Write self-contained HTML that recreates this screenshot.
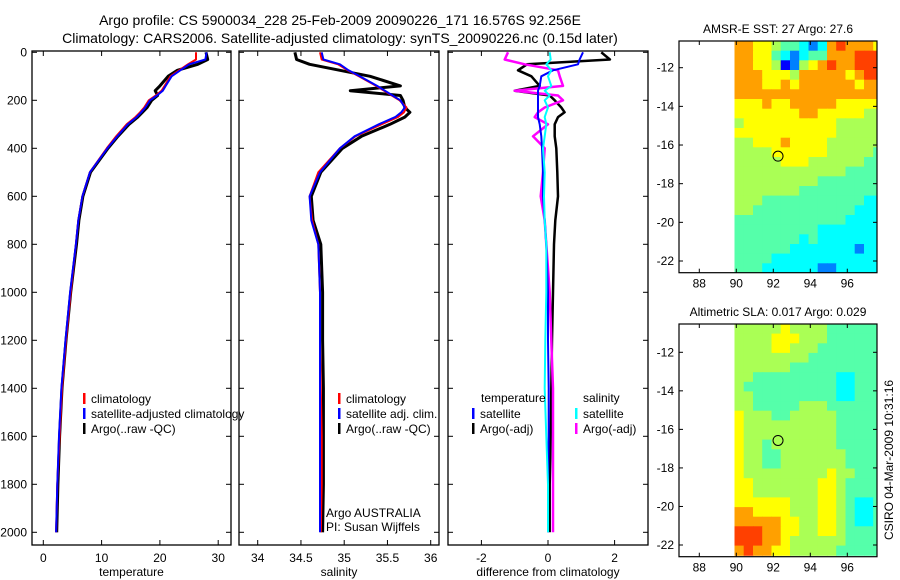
<!DOCTYPE html>
<html><head><meta charset="utf-8"><style>
body{margin:0;background:#fff;}
svg{display:block;font-family:"Liberation Sans",sans-serif;}
</style></head><body>
<svg id="c" width="900" height="580" viewBox="0 0 900 580"></svg>
<script>
// ---- profile data ----
const depths = [0,30,50,75,100,140,160,180,200,230,250,270,300,350,400,500,600,700,800,1000,1200,1400,1600,1800,2000];
const tempSat  = [28,27.8,25,23.5,22,21,20.5,19.5,18.3,17.5,16.8,16,14.5,12.7,11,8,6.7,6,5.6,4.6,3.8,3.1,2.7,2.4,2.2];
const tempClim = [26.2,26.2,24.8,23.3,21.8,20.8,20.3,19.3,18.1,17.3,16.6,15.8,14.3,12.5,10.9,8,6.7,6,5.6,4.7,3.9,3.2,2.8,2.4,2.2];
const tempArgo = [27.9,28.2,26.5,23,21.4,20,19.2,19.6,18.6,17.8,17,16.2,14.7,12.8,11.1,8.1,6.8,6.1,5.7,4.7,3.9,3.2,2.8,2.5,2.3];
const salSat  = [34.74,34.76,34.95,35.05,35.18,35.38,35.47,35.56,35.65,35.7,35.66,35.59,35.4,35.12,34.95,34.72,34.6,34.62,34.7,34.72,34.72,34.72,34.72,34.72,34.72];
const salClim = [34.72,34.74,34.93,35.04,35.17,35.37,35.46,35.55,35.64,35.72,35.69,35.62,35.43,35.13,34.95,34.7,34.6,34.63,34.7,34.72,34.72,34.73,34.74,34.74,34.73];
const salArgo = [34.43,34.45,34.6,34.95,35.3,35.65,35.07,35.65,35.68,35.7,35.76,35.7,35.53,35.2,34.98,34.73,34.62,34.64,34.73,34.75,34.75,34.76,34.76,34.76,34.75];
const dTempSat  = [1.05,0.95,0.9,0.15,-0.2,-0.25,-0.3,-0.3,-0.3,-0.3,-0.3,-0.3,-0.25,-0.2,-0.18,-0.15,-0.15,-0.1,-0.05,0,0,0.02,0.02,0,0];
const dTempArgo = [1.6,1.86,-0.63,-0.9,-0.5,-0.25,-1.0,0.05,0.2,0.4,0.5,0.3,0.2,0.2,0.25,0.28,0.3,0.22,0.18,0.15,0.12,0.1,0.08,0.05,0.05];
const dSalArgo  = [-1.2,-1.3,-0.7,0.3,0.35,0.45,-1.0,0.3,0.45,-0.1,-0.3,-0.4,0,-0.45,-0.1,-0.15,-0.22,-0.1,-0.05,0.05,0.1,0.15,0.15,0.15,0.15];
const dSalSat   = [0.05,0.08,-0.05,0.1,0.0,0.1,-0.1,0.05,-0.1,0.0,-0.05,-0.1,-0.05,-0.1,-0.15,-0.1,-0.12,-0.1,-0.05,-0.05,-0.08,-0.1,-0.05,0,0];
const depthTicks = [0,200,400,600,800,1000,1200,1400,1600,1800,2000];
const tempTicks = [0,10,20,30];
const salTicks = [34,34.5,35,35.5,36];
const diffTicks = [-2,0,2];
// ---- map data (jet index 0-9), rows top(-10.62) to bottom, 0.5 deg cells from lon 89.9 ----
const sstRows = [
"7766544323787776","7766432344777888","7766512567877888","7776665777776788",
"7776676777777677","7777777777777777","6667667777766666","6666666776666655",
"5666666666655555","6666666666655555","5566676666555555","5555666666555554",
"5555566655555544","5555555555554444","5555555554444444","5555555444444444",
"5554444444444433","5544444444444333","4444444444443333","4444444443333333",
"4444444343333333","4444443333333233","4444333333333333","4443333332233333"];
const slaRows = [
"5555565555444444","5555666555444444","5555665554444444","5555555544444444",
"5555554444444444","5544444444433444","5444444444433444","5544444444433444",
"5544444555444444","6555445555544444","6555555555544444","6555555555544444",
"6554555555544444","6554455555554444","6554455555554444","6555555555655444",
"6655555556654444","6655555556654444","6666665556654334","7766665556654334",
"7777766556654334","8887766556654444","8887765555554444","7877665555544444"];
const lonTicks = [88,90,92,94,96];
const latTicks = [-12,-14,-16,-18,-20,-22];
const argoLon = 92.256, argoLat = -16.576;

const NS="http://www.w3.org/2000/svg";
const svg=document.getElementById('c');
function el(tag,attrs,parent){const e=document.createElementNS(NS,tag);for(const k in attrs)e.setAttribute(k,attrs[k]);(parent||svg).appendChild(e);return e;}
function txt(x,y,s,anchor,size,parent){const t=el('text',{x:x,y:y,'font-size':size||12,'text-anchor':anchor||'start',fill:'#000'},parent);t.textContent=s;return t;}
const jet=['#00008f','#0000ff','#0080ff','#00ffff','#55ffaa','#aaff55','#ffff00','#ffa000','#ff4000','#b00000'];

let t=txt(340,25,'Argo profile: CS 5900034_228 25-Feb-2009 20090226_171 16.576S 92.256E','middle',14);

t=txt(340,43,'Climatology: CARS2006. Satellite-adjusted climatology: synTS_20090226.nc (0.15d later)','middle',14);


const yTop=52.3, yPx=0.24, boxTop=51, boxBot=545;
const yD=d=>yTop+d*yPx;

function panel(name,left,right,x0,xs,ticks,xlabel,showY){
  const g=el('g',{});
  
  const xf=v=>x0+v*xs;
  el('rect',{x:left,y:boxTop,width:right-left,height:boxBot-boxTop,fill:'none',stroke:'#000','stroke-width':1.3},g);
  ticks.forEach(v=>{const x=xf(v);
    el('line',{x1:x,x2:x,y1:boxTop,y2:boxTop+5,stroke:'#000'},g);
    el('line',{x1:x,x2:x,y1:boxBot,y2:boxBot-5,stroke:'#000'},g);
    const l=txt(x,562,String(v),'middle',12,g);});
  depthTicks.forEach(d=>{const y=yD(d);
    el('line',{x1:left,x2:left+5,y1:y,y2:y,stroke:'#000'},g);
    el('line',{x1:right,x2:right-5,y1:y,y2:y,stroke:'#000'},g);
    if(showY){const l=txt(27,y+4,String(d),'end',12,g);}});
  const xl=txt((left+right)/2,576,xlabel,'middle',12,g);
  return {g,xf};
}
function line(p,vals,color,w,name){
  const pts=vals.map((v,i)=>p.xf(v).toFixed(1)+','+yD(depths[i]).toFixed(1)).join(' ');
  const l=el('polyline',{points:pts,fill:'none',stroke:color,'stroke-width':w,'stroke-linejoin':'round'},p.g);
  
}
function legend(p,x,y,color,label,name){
  const r=el('rect',{x:x,y:y-9,width:2.5,height:11,fill:color},p.g);
  
  const l=txt(x+8,y+1,label,'start',12,p.g);
}

const p1=panel('temperature-panel',32,231,43.3,5.83,tempTicks,'temperature',true);
line(p1,tempArgo,'#000',3,'temp-argo-line');
line(p1,tempClim,'#f00',2,'temp-climatology-line');
line(p1,tempSat,'#00f',2,'temp-satellite-line');
legend(p1,83,402,'#f00','climatology','legend-climatology');
legend(p1,83,417,'#00f','satellite-adjusted climatology','legend-satellite');
legend(p1,83,432,'#000','Argo(..raw -QC)','legend-argo');

const p2=panel('salinity-panel',239,439,257.7-34*86.5,86.5,salTicks,'salinity',false);
line(p2,salArgo,'#000',3,'sal-argo-line');
line(p2,salClim,'#f00',2,'sal-climatology-line');
line(p2,salSat,'#00f',2,'sal-satellite-line');
legend(p2,338,402,'#f00','climatology','legend-climatology');
legend(p2,338,417,'#00f','satellite adj. clim.','legend-satellite');
legend(p2,338,432,'#000','Argo(..raw -QC)','legend-argo');
t=txt(326,517,'Argo AUSTRALIA','start',12,p2.g);
t=txt(326,531,'PI: Susan Wijffels','start',12,p2.g);

const p3=panel('difference-panel',448,648,548,33.3,diffTicks,'difference from climatology',false);
line(p3,dTempArgo,'#000',2.5,'diff-temp-argo-line');
line(p3,dSalArgo,'#f0f',2.5,'diff-sal-argo-line');
line(p3,dTempSat,'#00f',2,'diff-temp-satellite-line');
line(p3,dSalSat,'#0ff',2,'diff-sal-satellite-line');
t=txt(481,402,'temperature','start',12,p3.g);
t=txt(583,402,'salinity','start',12,p3.g);
legend(p3,472,417,'#00f','satellite','legend-temp-satellite');
legend(p3,472,432,'#000','Argo(-adj)','legend-temp-argo');
legend(p3,575,417,'#0ff','satellite','legend-sal-satellite');
legend(p3,575,432,'#f0f','Argo(-adj)','legend-sal-argo');

function map(name,rows,top,bot,latM12,latM22,title){
  const g=el('g',{});
  const left=679,right=877;
  const lx=v=>699.3+(v-88)*18.5;
  const ly=v=>latM12+(-12-v)*((latM22-latM12)/10);
  const cid='clip-'+name;
  const cp=el('clipPath',{id:cid},g);el('rect',{x:left,y:top,width:right-left,height:bot-top},cp);
  const cg=el('g',{'clip-path':'url(#'+cid+')'},g);
  const latTop=-12+(latM12-top)/((latM22-latM12)/10);
  rows.forEach((row,ri)=>{for(let ci=0;ci<row.length;ci++){
    const lo=89.9+ci*0.5, la=latTop-ri*0.5;
    const x1=lx(lo),x2=lx(lo+0.5),y1=ly(la),y2=ly(la-0.5);
    const r=el('rect',{x:x1.toFixed(1),y:y1.toFixed(1),width:(x2-x1+0.6).toFixed(1),height:(y2-y1+0.6).toFixed(1),fill:jet[+row[ci]]},cg);
    
  }});
  el('rect',{x:left,y:top,width:right-left,height:bot-top,fill:'none',stroke:'#000','stroke-width':1.2},g);
  lonTicks.forEach(v=>{const x=lx(v);
    el('line',{x1:x,x2:x,y1:top,y2:top+4,stroke:'#000'},g);el('line',{x1:x,x2:x,y1:bot,y2:bot-4,stroke:'#000'},g);
    const l=txt(x,bot+15,String(v),'middle',12,g);});
  latTicks.forEach(v=>{const y=ly(v);
    el('line',{x1:left,x2:left+4,y1:y,y2:y,stroke:'#000'},g);el('line',{x1:right,x2:right-4,y1:y,y2:y,stroke:'#000'},g);
    const l=txt(left-5,y+4,String(v),'end',12,g);});
  const c=el('circle',{cx:lx(argoLon),cy:ly(argoLat),r:5,fill:'none',stroke:'#000','stroke-width':1},g);
  
  const tt=txt(778,top-8,title,'middle',12,g);
}
map('sst-map',sstRows,41,272.7,67.7,261,'AMSR-E SST: 27 Argo: 27.6');
map('sla-map',slaRows,324,556.7,352.3,545,'Altimetric SLA: 0.017 Argo: 0.029');
t=txt(0,0,'CSIRO 04-Mar-2009 10:31:16','middle',12);
t.setAttribute('transform','translate(893,460) rotate(-90)');

</script>
</body></html>
